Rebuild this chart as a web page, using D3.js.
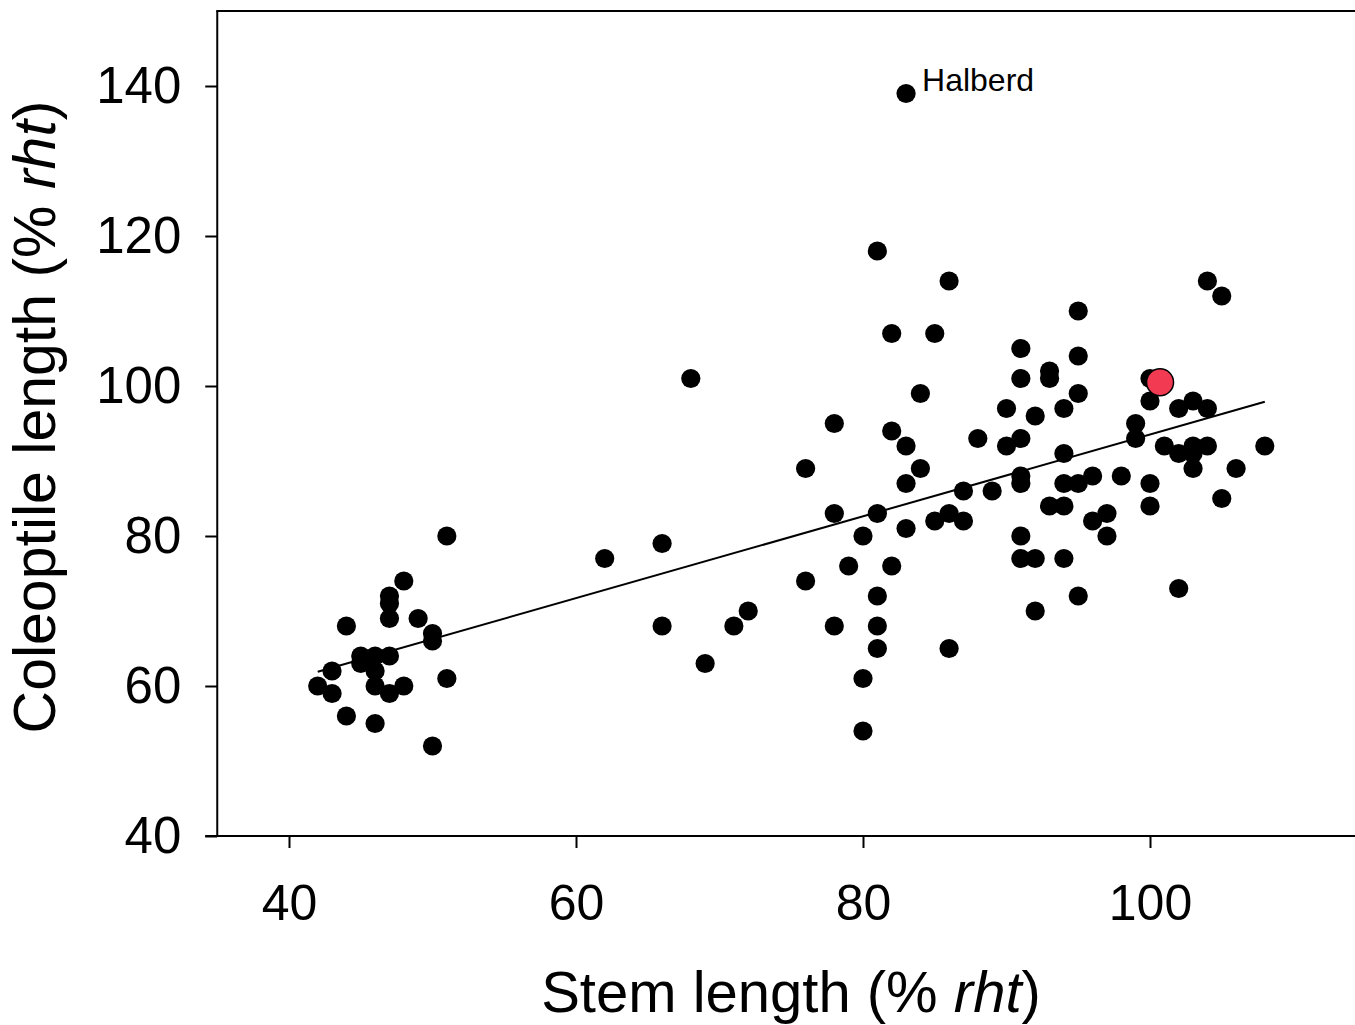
<!DOCTYPE html>
<html>
<head>
<meta charset="utf-8">
<script src="https://cdn.jsdelivr.net/npm/d3@7"></script>
<style>
  html, body { margin: 0; padding: 0; background: #fff; overflow: hidden; }
  svg { display: block; font-family: "Liberation Sans", Arial, sans-serif; }
</style>
</head>
<body>
<div id="chart"></div>
<script>
//data: stem length and coleoptile length (% rht) per cultivar
const stemLength = [
  42, 43, 43, 44, 44, 45, 45, 46, 46, 46, 46, 47, 47, 47, 47, 47, 48, 48, 49, 50, 50, 50, 51, 51,
  62, 66, 66, 68, 69, 71, 72, 76, 76, 78, 78, 78, 79, 80, 80, 80,
  81, 81, 81, 81, 81, 82, 82, 82, 83, 83, 83, 83, 84, 84, 85, 85, 86, 86, 86, 87, 87, 88, 89,
  90, 90, 91, 91, 91, 91, 91, 91, 91, 92, 92, 92, 93, 93, 93, 94, 94, 94, 94, 94,
  95, 95, 95, 95, 95, 96, 96, 97, 97, 98, 99, 99, 100, 100, 100, 100,
  101, 102, 102, 102, 103, 103, 103, 103, 104, 104, 104, 105, 105, 106, 108
];
const coleoptileLength = [
  60, 62, 59, 68, 56, 64, 63, 64, 62, 60, 55, 72, 71, 69, 64, 59, 74, 60, 69, 67, 66, 52, 80, 61,
  77, 79, 68, 101, 63, 68, 70, 89, 74, 95, 83, 68, 76, 80, 61, 54,
  118, 83, 72, 68, 65, 107, 94, 76, 139, 92, 87, 81, 99, 89, 107, 82, 114, 83, 65, 86, 82, 93, 86,
  97, 92, 105, 101, 93, 88, 87, 80, 77, 96, 77, 70, 102, 101, 84, 97, 91, 87, 84, 77,
  110, 104, 99, 87, 72, 88, 82, 83, 80, 88, 95, 93, 101, 98, 87, 84,
  92, 97, 91, 73, 98, 92, 91, 89, 114, 97, 92, 112, 85, 89, 92
];

//highlighted cultivar (red)
const highlightStem = [100.7];
const highlightColeoptile = [100.5];

//labelled point
const labelNames = ["Halberd"];
const labelStem = [83];
const labelColeoptile = [139];

//regression line end points
const fitStem = [42, 108];
const fitColeoptile = [61.9, 97.9];

//axis ticks
const xTicks = [40, 60, 80, 100];
const yTicks = [40, 60, 80, 100, 120, 140];

const width = 1355, height = 1025;
const plot = { left: 217.25, top: 11, bottom: 836 };

const svg = d3.select('#chart').append('svg')
  .attr('width', width)
  .attr('height', height);

//scales
const x = d3.scaleLinear()
  .domain([35, 115])
  .range([plot.left, plot.left + 80 * 14.35]);

const y = d3.scaleLinear()
  .domain([40, 150])
  .range([plot.bottom, plot.top]);

//x axis
const xAxis = svg.append('g')
  .attr('transform', `translate(0,${plot.bottom})`)
  .call(d3.axisBottom(x).tickValues(xTicks).tickSize(12).tickSizeOuter(0).tickPadding(36));
xAxis.select('.domain').attr('d', `M${plot.left - 12},0H${width + 10}`);

//y axis
const yAxis = svg.append('g')
  .attr('transform', `translate(${plot.left},0)`)
  .call(d3.axisLeft(y).tickValues(yTicks).tickSize(12).tickSizeOuter(0).tickPadding(24));
yAxis.select('.domain').attr('d', `M0,${plot.bottom}V${plot.top}`);

svg.selectAll('.domain').attr('stroke', '#000').attr('stroke-width', 2);
svg.selectAll('.tick line').attr('stroke', '#000').attr('stroke-width', 2);
svg.selectAll('.tick text')
  .attr('fill', '#000')
  .style('font-size', '50px')
  .style('font-family', '"Liberation Sans", Arial, sans-serif');
yAxis.selectAll('.tick text').style('font-size', '51px');

//top frame line
svg.append('line')
  .attr('x1', plot.left - 1).attr('x2', width + 10)
  .attr('y1', plot.top).attr('y2', plot.top)
  .attr('stroke', '#000').attr('stroke-width', 2);

//points
const points = stemLength.map((d, i) => ({ stem: d, col: coleoptileLength[i] }));
svg.append('g')
  .selectAll('circle')
  .data(points)
  .join('circle')
  .attr('cx', d => x(d.stem))
  .attr('cy', d => y(d.col))
  .attr('r', 9.6)
  .attr('fill', '#000');

//regression line
svg.append('path')
  .datum(fitStem.map((d, i) => [d, fitColeoptile[i]]))
  .attr('fill', 'none')
  .attr('stroke', '#000')
  .attr('stroke-width', 2)
  .attr('d', d3.line().x(d => x(d[0])).y(d => y(d[1])));

//highlighted point
svg.append('g')
  .selectAll('circle')
  .data(highlightStem.map((d, i) => ({ stem: d, col: highlightColeoptile[i] })))
  .join('circle')
  .attr('cx', d => x(d.stem))
  .attr('cy', d => y(d.col))
  .attr('r', 13.5)
  .attr('fill', '#f23a53')
  .attr('stroke', '#000')
  .attr('stroke-width', 1.5);

//point label
svg.append('g')
  .selectAll('text')
  .data(labelNames.map((d, i) => ({ name: d, stem: labelStem[i], col: labelColeoptile[i] })))
  .join('text')
  .attr('x', d => x(d.stem) + 16)
  .attr('y', d => y(d.col) - 3)
  .style('font-size', '32px')
  .attr('fill', '#000')
  .text(d => d.name);

//axis titles
const xTitle = svg.append('text')
  .attr('x', 791)
  .attr('y', 1012)
  .attr('text-anchor', 'middle')
  .style('font-size', '58px');
xTitle.append('tspan').text('Stem length (% ');
xTitle.append('tspan').style('font-style', 'italic').text('rht');
xTitle.append('tspan').text(')');

const yTitle = svg.append('text')
  .attr('transform', 'translate(55,417) rotate(-90)')
  .attr('text-anchor', 'middle')
  .style('font-size', '59px');
yTitle.append('tspan').text('Coleoptile length (% ');
yTitle.append('tspan').style('font-style', 'italic').text('rht');
yTitle.append('tspan').text(')');
</script>
</body>
</html>
